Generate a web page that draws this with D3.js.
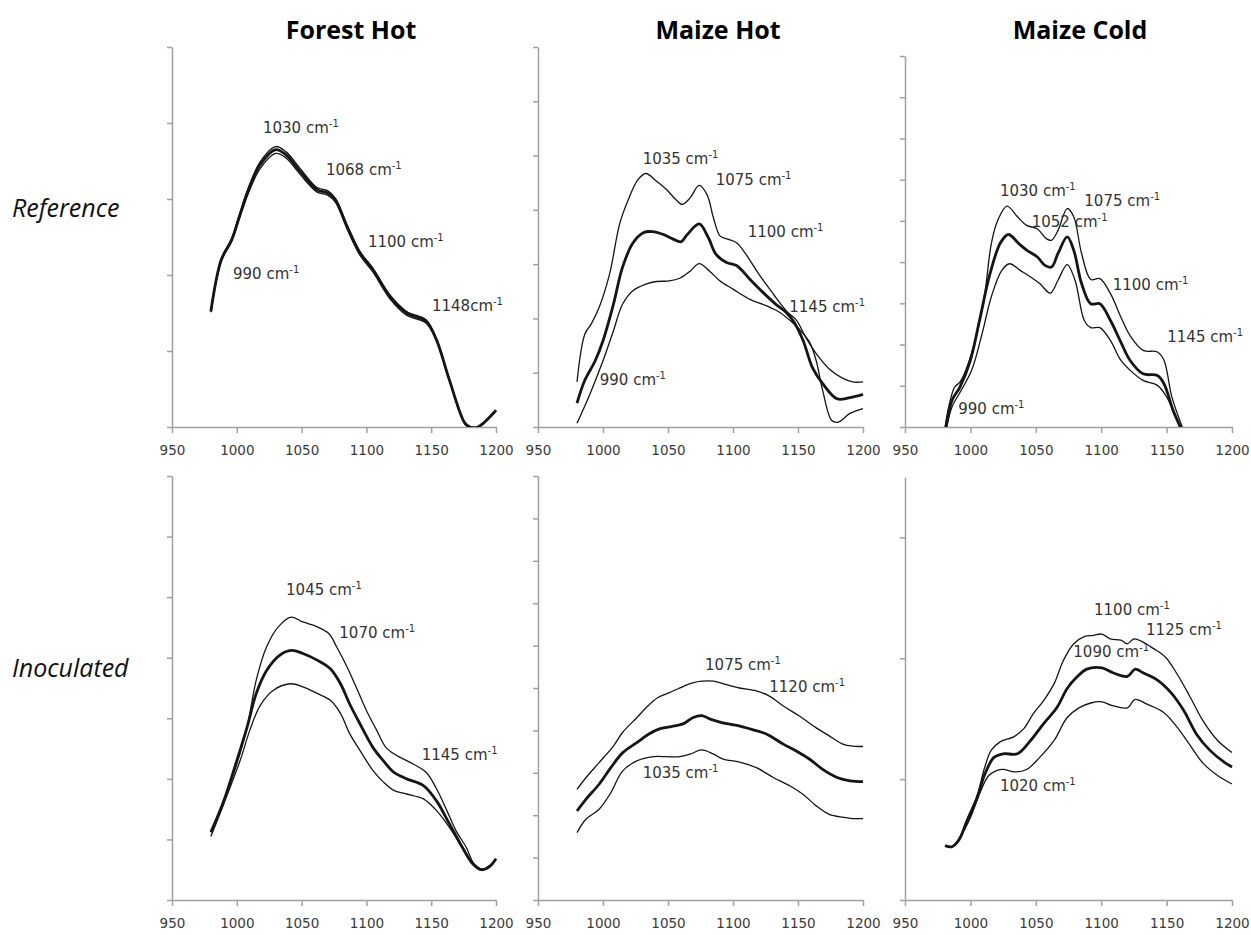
<!DOCTYPE html>
<html>
<head>
<meta charset="utf-8">
<script src="https://cdn.jsdelivr.net/npm/d3@7"></script>
<style>
  body { margin: 0; background: #fff; }
  .axis path, .axis line { stroke: #a0a0a0; stroke-width: 1.5; }
  .title { font-family: "Open Sans", sans-serif; font-weight: bold; font-size: 25px; fill: #000; }
  .rowlabel { font-family: "Open Sans", sans-serif; font-style: italic; font-size: 25px; fill: #111; }
  .note { font-family: "DejaVu Sans", sans-serif; font-size: 15px; fill: #333; }
</style>
</head>
<body>
<div id="chart"></div>
<script>
var columnTitles = ["Forest Hot", "Maize Hot", "Maize Cold"];
var rowLabels = ["Reference", "Inoculated"];
var xTicks = [950, 1000, 1050, 1100, 1150, 1200];

// Forest Hot - Reference
var fhRefX = [980, 988, 996, 1002, 1009, 1018, 1030, 1038, 1049, 1062, 1070, 1076, 1085, 1095, 1105, 1118, 1131, 1146, 1154, 1164, 1176, 1180, 1186, 1200];
var fhRefUpper = [1.53, 2.21, 2.48, 2.79, 3.15, 3.49, 3.69, 3.62, 3.40, 3.15, 3.11, 3.01, 2.66, 2.31, 2.09, 1.74, 1.52, 1.41, 1.16, 0.63, 0.05, 0, 0, 0.22];
var fhRefMean = [1.52, 2.20, 2.46, 2.77, 3.12, 3.45, 3.65, 3.58, 3.36, 3.12, 3.08, 2.99, 2.64, 2.29, 2.07, 1.72, 1.50, 1.39, 1.15, 0.62, 0.05, 0, 0, 0.22];
var fhRefLower = [1.51, 2.18, 2.44, 2.74, 3.08, 3.40, 3.60, 3.54, 3.32, 3.09, 3.05, 2.96, 2.61, 2.26, 2.04, 1.69, 1.47, 1.37, 1.14, 0.61, 0.04, 0, 0, 0.21];

// Maize Hot - Reference
var mhRefUpperX = [980, 986, 991, 997, 1005, 1013, 1020, 1027, 1033, 1041, 1049, 1056, 1061, 1067, 1074, 1080, 1085, 1090, 1096, 1103, 1110, 1120, 1131, 1141, 1149, 1156, 1164, 1174, 1185, 1192, 1200];
var mhRefUpper = [0.83, 1.71, 1.90, 2.20, 2.81, 3.76, 4.22, 4.56, 4.67, 4.53, 4.37, 4.19, 4.10, 4.22, 4.45, 4.28, 3.85, 3.52, 3.46, 3.39, 3.18, 2.81, 2.45, 2.14, 1.96, 1.65, 1.35, 1.07, 0.89, 0.83, 0.83];
var mhRefMeanX = [980, 986, 994, 1000, 1008, 1015, 1023, 1031, 1038, 1046, 1054, 1060, 1065, 1074, 1081, 1087, 1095, 1103, 1113, 1123, 1133, 1141, 1147, 1154, 1161, 1169, 1180, 1190, 1200];
var mhRefMean = [0.44, 0.86, 1.22, 1.59, 2.26, 2.94, 3.39, 3.58, 3.60, 3.55, 3.46, 3.41, 3.55, 3.74, 3.49, 3.18, 3.03, 2.97, 2.72, 2.48, 2.26, 2.11, 1.93, 1.59, 1.10, 0.80, 0.52, 0.54, 0.60];
var mhRefLowerX = [980, 990, 1000, 1008, 1015, 1023, 1033, 1041, 1051, 1059, 1067, 1074, 1082, 1090, 1100, 1113, 1126, 1136, 1144, 1151, 1159, 1164, 1169, 1176, 1181, 1190, 1200];
var mhRefLower = [0.07, 0.61, 1.22, 1.77, 2.26, 2.51, 2.63, 2.68, 2.69, 2.74, 2.87, 3.01, 2.87, 2.69, 2.54, 2.35, 2.23, 2.11, 1.96, 1.80, 1.56, 1.22, 0.67, 0.12, 0.09, 0.25, 0.34];

// Maize Cold - Reference
var mcRefUpperX = [980.6, 984, 988, 992, 997, 1005, 1011, 1016, 1021, 1028, 1036, 1043, 1051, 1058, 1062, 1067, 1074, 1079, 1085, 1092, 1099, 1107, 1115, 1122, 1132, 1143, 1148, 1154, 1162];
var mcRefUpper = [0, 0.57, 0.97, 1.09, 1.42, 2.27, 3.24, 4.45, 5.02, 5.36, 5.10, 4.89, 4.81, 4.57, 4.53, 4.77, 5.30, 5.10, 4.21, 3.58, 3.60, 3.24, 2.67, 2.22, 1.86, 1.82, 1.62, 0.73, 0];
var mcRefMeanX = [981.4, 986, 992, 1000, 1007, 1015, 1023, 1029, 1037, 1043, 1051, 1057, 1062, 1067, 1074, 1079, 1085, 1092, 1099, 1107, 1115, 1122, 1132, 1143, 1148, 1155, 1160.5];
var mcRefMean = [0, 0.65, 0.97, 1.62, 2.59, 3.72, 4.47, 4.67, 4.45, 4.29, 4.13, 3.92, 3.88, 4.21, 4.61, 4.29, 3.48, 2.99, 2.99, 2.59, 2.06, 1.62, 1.29, 1.25, 1.05, 0.40, 0];
var mcRefLowerX = [981.9, 986, 993, 1001, 1009, 1016, 1024, 1030, 1038, 1046, 1053, 1061, 1067, 1074, 1080, 1087, 1092, 1099, 1107, 1115, 1122, 1132, 1143, 1150, 1160.5];
var mcRefLower = [0, 0.49, 0.89, 1.38, 2.27, 3.16, 3.80, 3.96, 3.80, 3.64, 3.48, 3.25, 3.56, 3.94, 3.56, 2.59, 2.41, 2.41, 2.10, 1.62, 1.38, 1.13, 1.01, 0.73, 0];

// Forest Hot - Inoculated
var fhInoUpperX = [980, 990, 1000, 1008, 1015, 1023, 1032, 1042, 1051, 1062, 1071, 1077, 1085, 1092, 1100, 1108, 1115, 1123, 1133, 1146, 1154, 1162, 1169, 1177, 1183, 1190, 1195, 1200];
var fhInoUpper = [1.12, 1.64, 2.25, 2.86, 3.63, 4.18, 4.51, 4.67, 4.59, 4.51, 4.40, 4.18, 3.85, 3.52, 3.13, 2.80, 2.52, 2.39, 2.28, 2.11, 1.84, 1.48, 1.15, 0.87, 0.60, 0.51, 0.57, 0.68];
var fhInoMeanX = [980, 990, 1000, 1008, 1015, 1023, 1033, 1042, 1051, 1062, 1072, 1080, 1087, 1095, 1105, 1113, 1121, 1131, 1144, 1154, 1164, 1174, 1182, 1189, 1195, 1200];
var fhInoMean = [1.12, 1.64, 2.30, 2.86, 3.41, 3.79, 4.04, 4.12, 4.07, 3.96, 3.82, 3.57, 3.24, 2.91, 2.52, 2.30, 2.11, 2.00, 1.89, 1.64, 1.26, 0.87, 0.60, 0.50, 0.55, 0.68];
var fhInoLowerX = [980, 990, 1003, 1010, 1018, 1028, 1041, 1051, 1062, 1072, 1080, 1087, 1095, 1105, 1113, 1121, 1131, 1144, 1154, 1164, 1174, 1182, 1189, 1195, 1200];
var fhInoLower = [1.05, 1.59, 2.33, 2.80, 3.21, 3.46, 3.57, 3.52, 3.41, 3.30, 3.08, 2.75, 2.47, 2.14, 1.95, 1.81, 1.75, 1.67, 1.48, 1.20, 0.87, 0.60, 0.50, 0.55, 0.68];

// Maize Hot - Inoculated
var mhInoUpperX = [980, 987, 997, 1008, 1015, 1026, 1033, 1042, 1051, 1062, 1069, 1076, 1085, 1095, 1105, 1118, 1128, 1139, 1151, 1164, 1174, 1185, 1192, 1200];
var mhInoUpper = [2.61, 2.89, 3.24, 3.63, 3.95, 4.30, 4.53, 4.77, 4.89, 5.04, 5.12, 5.16, 5.16, 5.08, 5.00, 4.93, 4.81, 4.57, 4.34, 4.06, 3.87, 3.67, 3.63, 3.62];
var mhInoMeanX = [980, 987, 997, 1006, 1015, 1026, 1035, 1044, 1054, 1062, 1069, 1076, 1083, 1092, 1103, 1115, 1126, 1139, 1149, 1159, 1169, 1180, 1190, 1200];
var mhInoMean = [2.10, 2.38, 2.73, 3.12, 3.47, 3.71, 3.91, 4.04, 4.10, 4.16, 4.30, 4.35, 4.26, 4.18, 4.12, 4.02, 3.91, 3.67, 3.51, 3.32, 3.08, 2.89, 2.81, 2.79];
var mhInoLowerX = [980, 987, 997, 1006, 1015, 1026, 1039, 1049, 1059, 1067, 1076, 1085, 1092, 1105, 1118, 1131, 1144, 1154, 1164, 1174, 1185, 1192, 1200];
var mhInoLower = [1.59, 1.91, 2.14, 2.53, 3.04, 3.28, 3.38, 3.38, 3.38, 3.44, 3.54, 3.44, 3.33, 3.25, 3.12, 2.89, 2.69, 2.49, 2.22, 2.02, 1.95, 1.92, 1.92];

// Maize Cold - Inoculated
var mcInoUpperX = [980.6, 985.7, 990.8, 997, 1005, 1011, 1016, 1023, 1033, 1041, 1048, 1056, 1064, 1071, 1079, 1087, 1094, 1100.5, 1107, 1115, 1120, 1125, 1131, 1140, 1149, 1158, 1168, 1178, 1189, 1200];
var mcInoUpper = [0.45, 0.44, 0.49, 0.66, 0.86, 1.10, 1.24, 1.31, 1.35, 1.42, 1.54, 1.65, 1.79, 1.98, 2.12, 2.18, 2.19, 2.20, 2.16, 2.15, 2.12, 2.16, 2.14, 2.08, 2.01, 1.87, 1.68, 1.48, 1.32, 1.22];
var mcInoMeanX = [980.6, 985.7, 990.8, 997, 1005, 1011, 1018, 1025, 1036, 1046, 1056, 1066, 1074, 1081, 1089, 1100.5, 1109, 1120, 1126, 1132, 1143, 1153, 1163, 1173, 1183, 1194, 1200];
var mcInoMean = [0.45, 0.44, 0.49, 0.64, 0.84, 1.04, 1.18, 1.21, 1.21, 1.32, 1.46, 1.59, 1.75, 1.84, 1.91, 1.92, 1.88, 1.85, 1.91, 1.88, 1.82, 1.72, 1.57, 1.37, 1.24, 1.14, 1.10];
var mcInoLowerX = [980.6, 985.7, 992, 1000, 1007, 1014, 1020, 1025, 1034, 1043, 1053, 1064, 1074, 1083, 1092, 1100.5, 1108, 1120, 1126, 1135, 1148, 1158, 1168, 1178, 1189, 1200];
var mcInoLower = [0.45, 0.44, 0.52, 0.68, 0.88, 1.03, 1.07, 1.08, 1.06, 1.08, 1.18, 1.32, 1.51, 1.59, 1.63, 1.64, 1.61, 1.59, 1.66, 1.62, 1.55, 1.43, 1.28, 1.13, 1.03, 0.96];

// peak labels: [wavenumber text, x, y] in each panel's data units
var fhRefNotes = [["1030 cm", 1020.2, 3.87], ["1068 cm", 1068.8, 3.32], ["1100 cm", 1101.2, 2.37], ["990 cm", 997.1, 1.95], ["1148cm", 1150.6, 1.53]];
var mhRefNotes = [["1035 cm", 1030.5, 4.84], ["1075 cm", 1086.7, 4.46], ["1100 cm", 1111.3, 3.50], ["1145 cm", 1143.3, 2.12], ["990 cm", 997.5, 0.77]];
var mcRefNotes = [["1030 cm", 1022.6, 5.61], ["1075 cm", 1087.1, 5.37], ["1052 cm", 1046.9, 4.86], ["1100 cm", 1108.8, 3.33], ["1145 cm", 1150.5, 2.07], ["990 cm", 990.7, 0.32]];
var fhInoNotes = [["1045 cm", 1038.0, 5.04], ["1070 cm", 1079.1, 4.32], ["1145 cm", 1142.7, 2.31]];
var mhInoNotes = [["1075 cm", 1078.5, 5.42], ["1120 cm", 1127.9, 4.91], ["1035 cm", 1030.5, 2.87]];
var mcInoNotes = [["1100 cm", 1094.5, 2.36], ["1125 cm", 1134.3, 2.19], ["1090 cm", 1078.7, 2.01], ["1020 cm", 1022.6, 0.90]];

var yMax = [5, 7, 9, 7, 10, 3.5];

var panels = [
  { col: 0, row: 0, ymax: yMax[0], notes: fhRefNotes,
    series: [[fhRefX, fhRefUpper, 1.3], [fhRefX, fhRefLower, 1.3], [fhRefX, fhRefMean, 2.8]] },
  { col: 1, row: 0, ymax: yMax[1], notes: mhRefNotes,
    series: [[mhRefUpperX, mhRefUpper, 1.3], [mhRefLowerX, mhRefLower, 1.3], [mhRefMeanX, mhRefMean, 2.8]] },
  { col: 2, row: 0, ymax: yMax[2], notes: mcRefNotes,
    series: [[mcRefUpperX, mcRefUpper, 1.3], [mcRefLowerX, mcRefLower, 1.3], [mcRefMeanX, mcRefMean, 2.8]] },
  { col: 0, row: 1, ymax: yMax[3], notes: fhInoNotes,
    series: [[fhInoUpperX, fhInoUpper, 1.3], [fhInoLowerX, fhInoLower, 1.3], [fhInoMeanX, fhInoMean, 2.8]] },
  { col: 1, row: 1, ymax: yMax[4], notes: mhInoNotes,
    series: [[mhInoUpperX, mhInoUpper, 1.3], [mhInoLowerX, mhInoLower, 1.3], [mhInoMeanX, mhInoMean, 2.8]] },
  { col: 2, row: 1, ymax: yMax[5], notes: mcInoNotes,
    series: [[mcInoUpperX, mcInoUpper, 1.3], [mcInoLowerX, mcInoLower, 1.3], [mcInoMeanX, mcInoMean, 2.8]] }
];

var width = 1251, height = 935;
var colLeft = [172, 538, 905], colRight = [496, 863, 1232];
var rowBottom = [427, 900];
var panelTop = [47, 47, 56, 476, 476, 477];

var svg = d3.select("#chart").append("svg")
  .attr("width", width)
  .attr("height", height);

// column titles
var titleCenter = [351, 718, 1080];
svg.selectAll(".title")
  .data(columnTitles)
  .enter()
  .append("text")
  .attr("class", "title")
  .attr("x", (d, i) => titleCenter[i])
  .attr("y", 39)
  .attr("text-anchor", "middle")
  .text((d) => d);

// row labels
var rowBaseline = [217, 677];
svg.selectAll(".rowlabel")
  .data(rowLabels)
  .enter()
  .append("text")
  .attr("class", "rowlabel")
  .attr("x", 12)
  .attr("y", (d, i) => rowBaseline[i])
  .text((d) => d);

panels.forEach(function (p, k) {
  var x = d3.scaleLinear().domain([950, 1200]).range([colLeft[p.col], colRight[p.col]]);
  var y = d3.scaleLinear().domain([0, p.ymax]).range([rowBottom[p.row], panelTop[k]]);

  var g = svg.append("g");

  g.append("clipPath")
    .attr("id", "clip" + k)
    .append("rect")
    .attr("x", x(950))
    .attr("y", y(p.ymax) - 5)
    .attr("width", x(1200) - x(950) + 5)
    .attr("height", y(0) - y(p.ymax) + 5);

  // axes
  var xAxis = g.append("g")
    .attr("class", "axis")
    .attr("transform", "translate(0," + y(0) + ")")
    .call(d3.axisBottom(x).tickValues(xTicks).tickSize(6).tickSizeOuter(0).tickPadding(12).tickFormat(d3.format("d")));
  xAxis.selectAll("text")
    .style("font-family", "'DejaVu Sans', sans-serif")
    .style("font-size", "13.5px")
    .style("fill", "#3a3a3a");

  g.append("g")
    .attr("class", "axis")
    .attr("transform", "translate(" + x(950) + ",0)")
    .call(d3.axisLeft(y).tickValues(d3.range(0, Math.floor(p.ymax) + 1)).tickSize(5).tickSizeOuter(0).tickFormat(""));

  // spectra
  var line = d3.line()
    .x((d) => x(d[0]))
    .y((d) => y(d[1]))
    .curve(d3.curveCatmullRom.alpha(0.5));

  g.append("g")
    .attr("clip-path", "url(#clip" + k + ")")
    .selectAll("path")
    .data(p.series)
    .enter()
    .append("path")
    .attr("fill", "none")
    .attr("stroke", "#151515")
    .attr("stroke-width", (s) => s[2])
    .attr("stroke-linejoin", "round")
    .attr("d", (s) => line(s[0].map((v, i) => [v, s[1][i]])));

  // peak labels
  var note = g.selectAll(".note")
    .data(p.notes)
    .enter()
    .append("text")
    .attr("class", "note")
    .attr("x", (d) => x(d[1]))
    .attr("y", (d) => y(d[2]));
  note.append("tspan").text((d) => d[0]);
  note.append("tspan")
    .attr("dy", -6)
    .attr("font-size", "10px")
    .text("-1");
});
</script>
</body>
</html>
